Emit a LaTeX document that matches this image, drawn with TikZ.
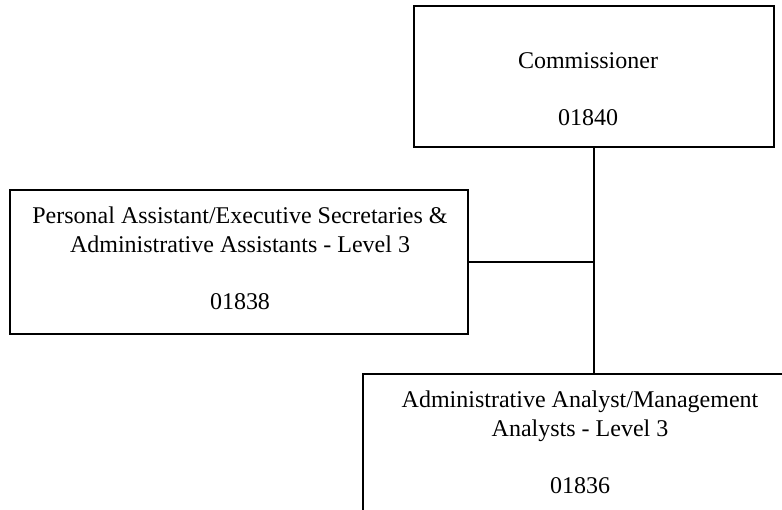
\documentclass[tikz,border=0pt]{standalone}
\usepackage{fontspec}
\setmainfont{Liberation Serif}
\begin{document}
\begin{tikzpicture}[x=1pt,y=-1pt,
  orgbox/.style={draw,line width=2.5pt,rectangle,inner sep=0pt},
  orgtext/.style={align=center,inner sep=0pt,anchor=base,
    font=\fontsize{24}{28.5}\selectfont},
  link/.style={line width=2pt}]
  \useasboundingbox (0,0) rectangle (782,509);
  % boxes
  \node[orgbox,minimum width=360pt,minimum height=141pt] (comm) at (594,76.5) {};
  \node[orgbox,minimum width=458pt,minimum height=144pt] (pa) at (239,262) {};
  \node[orgbox,minimum width=440pt,minimum height=170pt] (adm) at (583,459) {};
  % connectors
  \draw[link] (comm.south) -- (comm.south |- adm.north);
  \draw[link] (pa.east) -- (pa.east -| comm.south);
  % labels (anchored at the baseline of the last line)
  \node[orgtext] (commtext) at (588,125) {Commissioner\\[28.5pt]01840};
  \node[orgtext] (patext) at (240,309) {Personal Assistant/Executive Secretaries \&\\Administrative Assistants - Level 3\\[28.5pt]01838};
  \node[orgtext] (admtext) at (580,493) {Administrative Analyst/Management\\Analysts - Level 3\\[28.5pt]01836};
\end{tikzpicture}
\end{document}
